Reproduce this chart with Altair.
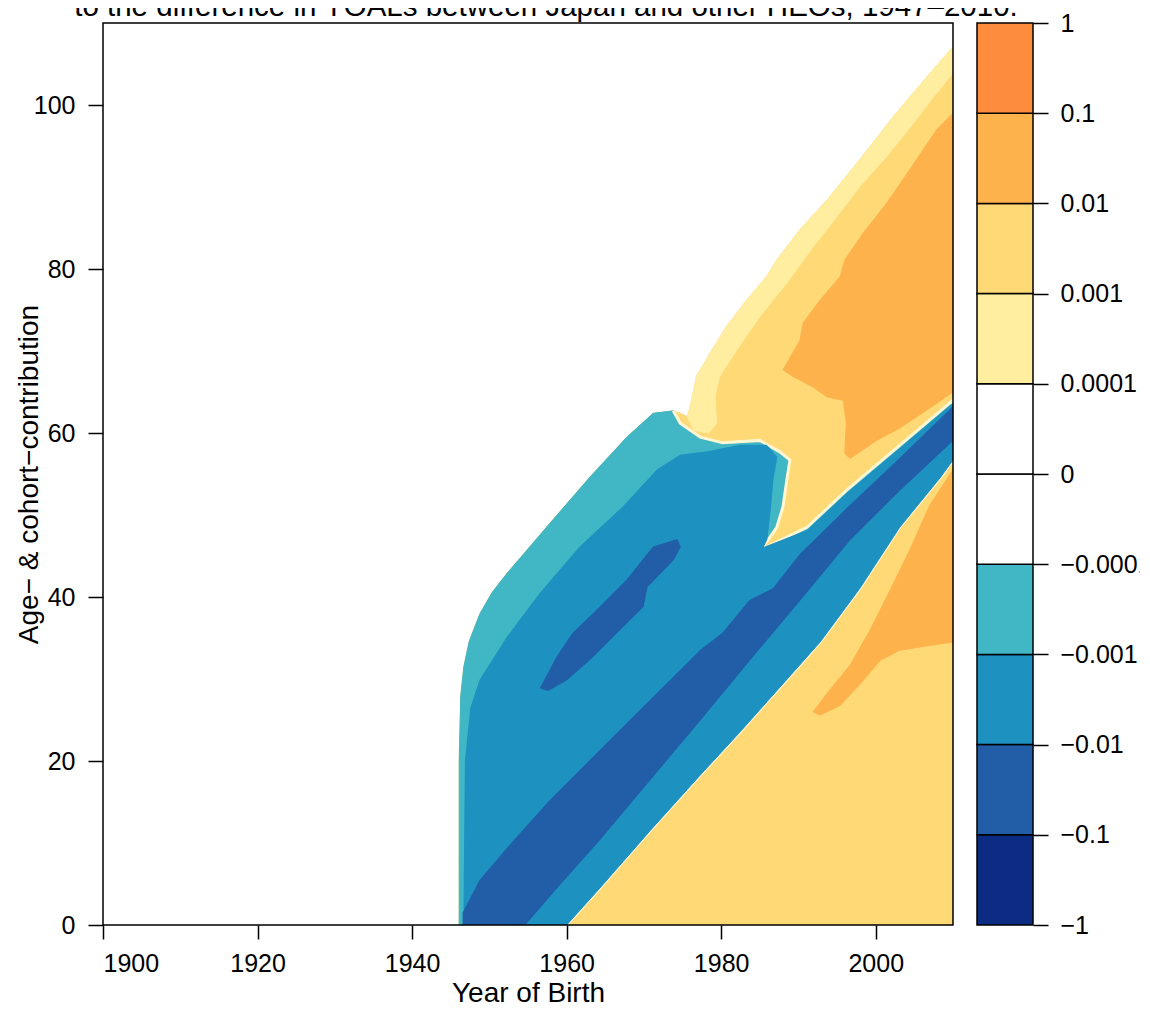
import json
import altair as alt
import pandas as pd

FONT = "Liberation Sans, Arial, Helvetica, sans-serif"

# ---- axes ----
X_DOMAIN = [1900, 2010]
Y_DOMAIN = [0, 110]
X_TICKS = [1900, 1920, 1940, 1960, 1980, 2000]
Y_TICKS = [0, 20, 40, 60, 80, 100]

# ---- contour regions (Year of Birth, Age) ----
YELLOW_DOMAIN = [
    (1946.1, 0), (1946.1, 20), (1946.3, 28.0), (1946.7, 31.5), (1947.4, 34.6),
    (1948.8, 38.0), (1950.4, 40.6), (1952.3, 42.9), (1957.85, 49.0), (1963.0, 54.6),
    (1967.8, 59.5), (1971.2, 62.4), (1973.8, 62.7), (1975.0, 62.3), (1975.6, 62.0),
    (1976.0, 63.2), (1976.8, 66.9), (1978.6, 69.8), (1980.7, 73.0), (1983.3, 76.2),
    (1985.9, 79.1), (1987.2, 81.1), (1990.2, 84.8), (1993.7, 88.4), (1997.9, 93.3),
    (2002.3, 98.6), (2006.6, 103.4), (2010, 107.1), (2010, 0)]

LIGHT_YELLOW_UPPER = [
    (1975.6, 62.0), (1976.0, 63.2), (1976.8, 66.9), (1978.6, 69.8), (1980.7, 73.0),
    (1983.3, 76.2), (1985.9, 79.1), (1987.2, 81.1), (1990.2, 84.8), (1993.7, 88.4),
    (1997.9, 93.3), (2002.3, 98.6), (2006.6, 103.4), (2010, 107.1), (2010, 103.9),
    (2007.5, 101.0), (2004.9, 97.8), (2001.4, 93.7), (1997.9, 90.0), (1995.0, 86.4),
    (1991.9, 82.7), (1988.5, 78.3), (1985.0, 74.2), (1982.0, 70.1), (1979.8, 66.9),
    (1979.2, 64.4), (1979.4, 61.2), (1978.4, 60.0), (1976.5, 60.3)]

ORANGE_UPPER = [
    (2010, 99.0), (2007.9, 97.0), (2004.4, 92.1), (2001.4, 88.0), (1998.4, 84.4),
    (1996.0, 81.1), (1995.4, 79.1), (1992.8, 76.2), (1990.6, 73.4), (1990.2, 71.3),
    (1988.5, 68.5), (1988.0, 67.7), (1989.3, 66.9), (1991.9, 65.6), (1993.7, 64.4),
    (1995.8, 64.0), (1996.2, 61.2), (1996.0, 57.5), (1996.7, 56.9), (2000.1, 59.1),
    (2003.1, 60.6), (2006.6, 62.8), (2010, 65.0)]

ORANGE_LOWER = [
    (1991.9, 26.0), (1994.1, 28.7), (1996.7, 31.7), (1999.3, 36.0), (2001.9, 40.9),
    (2004.4, 45.7), (2007.0, 51.2), (2010, 55.5), (2010, 34.5), (2007.0, 34.1),
    (2003.1, 33.5), (2000.6, 32.3), (1997.9, 29.3), (1995.4, 26.8), (1992.8, 25.6)]

TEAL = [
    (1946.1, 0), (1946.1, 20), (1946.3, 28.0), (1946.7, 31.5), (1947.4, 34.6),
    (1948.8, 38.0), (1950.4, 40.6), (1952.3, 42.9), (1957.85, 49.0), (1963.0, 54.6),
    (1967.8, 59.5), (1971.2, 62.4), (1973.8, 62.7), (1974.7, 61.2), (1977.3, 59.5),
    (1980.2, 58.8), (1985.0, 59.1), (1987.6, 57.7), (1988.9, 56.7), (1988.5, 54.3),
    (1988.0, 51.0), (1987.2, 48.5), (1986.1, 47.0), (1985.0, 45.7), (1991.1, 48.5),
    (1996.2, 53.0), (2003.1, 58.5), (2010, 64.0), (2010, 56.7), (2008.3, 54.5),
    (2003.1, 48.5), (1997.9, 41.0), (1992.8, 34.5), (1987.6, 29.0), (1982.4, 23.5),
    (1977.3, 18.3), (1970.8, 11.5), (1964.3, 4.5), (1960.0, 0)]

MEDIUM_BLUE = [
    (1946.7, 0), (1946.9, 20), (1947.6, 26.5), (1948.8, 29.9), (1952.3, 35.1),
    (1956.6, 40.5), (1961.7, 46.1), (1967.3, 51.0), (1971.7, 55.5), (1974.7, 57.3),
    (1978.2, 57.7), (1982.4, 58.5), (1985.9, 58.5), (1987.2, 57.1), (1986.7, 54.3),
    (1986.3, 50.2), (1985.9, 47.0), (1985.4, 46.0), (1991.1, 48.1), (1996.2, 52.6),
    (2003.1, 58.1), (2010, 63.6), (2010, 56.7), (2008.3, 54.5), (2003.1, 48.5),
    (1997.9, 41.0), (1992.8, 34.5), (1987.6, 29.0), (1982.4, 23.5), (1977.3, 18.3),
    (1970.8, 11.5), (1964.3, 4.5), (1960.0, 0)]

DARK_BAND = [
    (1946.6, 0), (1946.6, 1.5), (1948.8, 5.5), (1952.7, 9.8), (1957.85, 15.2),
    (1964.3, 21.3), (1970.8, 27.4), (1973.8, 30.2), (1977.3, 33.5), (1980.2, 35.6),
    (1983.7, 39.6), (1986.7, 41.0), (1990.2, 45.2), (1996.7, 51.2), (2003.1, 56.9),
    (2010, 63.2), (2010, 59.1), (2003.1, 53.0), (1996.7, 47.0), (1990.2, 39.6),
    (1983.7, 32.3), (1977.3, 25.0), (1970.8, 17.7), (1964.3, 10.4), (1959.1, 4.9),
    (1954.6, 0)]

DARK_ISLAND = [
    (1956.6, 28.9), (1958.75, 32.7), (1960.8, 35.6), (1963.9, 38.4), (1967.8, 42.1),
    (1971.2, 46.1), (1974.3, 47.0), (1974.7, 46.1), (1973.8, 44.5), (1970.4, 41.2),
    (1969.9, 38.8), (1966.9, 36.0), (1963.4, 32.7), (1960.05, 29.9), (1957.6, 28.6)]

# pale seam where the negative (blue) zone meets the positive (yellow) zone
SEAM = TEAL[TEAL.index((1973.8, 62.7)):]

# painting order: name, points, fill colour (None = open line), edge colour, edge width
REGIONS = [
    ("yellow_domain", YELLOW_DOMAIN, "#FED976", "#FED976", 1),
    ("lightyellow_upper", LIGHT_YELLOW_UPPER, "#FFEDA0", "#FFEDA0", 1),
    ("orange_upper", ORANGE_UPPER, "#FEB24C", "#FEB24C", 1),
    ("orange_lower", ORANGE_LOWER, "#FEB24C", "#FEB24C", 1),
    ("teal", TEAL, "#41B6C4", "#41B6C4", 1),
    ("seam", SEAM, None, "#FFF6D2", 3),
    ("medium_blue", MEDIUM_BLUE, "#1D91C0", "#1D91C0", 1),
    ("dark_band", DARK_BAND, "#225EA8", "#225EA8", 1),
    ("dark_island", DARK_ISLAND, "#225EA8", "#225EA8", 1),
]

# ---- colour key ----
LEGEND_LABELS = ["\u22121", "\u22120.1", "\u22120.01", "\u22120.001", "\u22120.0001",
                 "0", "0.0001", "0.001", "0.01", "0.1", "1"]
LEGEND_COLORS = ["#0C2C84", "#225EA8", "#1D91C0", "#41B6C4", "#FFFFFF",
                 "#FFFFFF", "#FFEDA0", "#FED976", "#FEB24C", "#FD8D3C"]

TITLE = "to the difference in YOALs between Japan and other HEOs, 1947\u20132010."
X_TITLE = "Year of Birth"
Y_TITLE = "Age\u2212 & cohort\u2212contribution"

W, H = 850, 902

rows = []
for name, pts, _, _, _ in REGIONS:
    for i, (x, y) in enumerate(pts):
        rows.append({"region": name, "i": i, "x": x, "y": y})
poly_df = pd.DataFrame(rows)

x_enc = alt.X("x:Q", scale=alt.Scale(domain=X_DOMAIN, nice=False, zero=False),
              axis=alt.Axis(values=X_TICKS, format="d", tickSize=14, labelPadding=12,
                            title=X_TITLE, titleX=W / 2, titleY=76,
                            titleBaseline="alphabetic"))
y_enc = alt.Y("y:Q", scale=alt.Scale(domain=Y_DOMAIN, nice=False, zero=False),
              axis=alt.Axis(values=Y_TICKS, tickSize=15, labelPadding=13,
                            title=Y_TITLE, titleX=-66, titleY=H / 2, titleAngle=270,
                            titleBaseline="alphabetic"))

base = alt.Chart(poly_df)
layers = []
for name, _, fill, edge, ew in REGIONS:
    filtered = base.transform_filter(alt.datum.region == name)
    if fill is None:
        layers.append(
            filtered.mark_line(strokeWidth=ew, clip=True)
            .encode(x=x_enc, y=y_enc, order=alt.Order("i:Q"), stroke=alt.value(edge))
        )
    else:
        layers.append(
            filtered.mark_line(interpolate="linear-closed", strokeWidth=ew, clip=True)
            .encode(x=x_enc, y=y_enc, order=alt.Order("i:Q"),
                    fill=alt.value(fill), stroke=alt.value(edge))
        )

frame = alt.Chart(pd.DataFrame({"a": [0]})).mark_rect(
    fillOpacity=0, stroke="black", strokeWidth=1.5
).encode(x=alt.value(0), x2=alt.value(W), y=alt.value(0), y2=alt.value(H))

title_text = alt.Chart(pd.DataFrame({"t": [TITLE]})).mark_text(
    font=FONT, fontSize=29.5, color="black", align="center", baseline="alphabetic"
).encode(x=alt.value(443), y=alt.value(-7), text="t:N")

main = alt.layer(*layers, frame, title_text)

legend_df = pd.DataFrame({"lo": list(range(10)), "hi": list(range(1, 11)),
                          "color": LEGEND_COLORS})
label_expr = json.dumps(LEGEND_LABELS) + "[datum.value]"
legend = alt.Chart(legend_df).mark_rect(stroke="black", strokeWidth=1.5).encode(
    x=alt.value(874), x2=alt.value(930),
    y=alt.Y("lo:Q", scale=alt.Scale(domain=[0, 10], nice=False, zero=False),
            axis=alt.Axis(orient="right", offset=80, values=list(range(11)),
                          labelExpr=label_expr, tickSize=15, labelPadding=12,
                          title=None, domain=False)),
    y2="hi:Q",
    fill=alt.Fill("color:N", scale=None),
)

chart = (
    alt.layer(main, legend)
    .resolve_scale(y="independent")
    .properties(
        width=W, height=H,
        autosize=alt.AutoSizeParams(type="none"),
        padding={"left": 95, "top": 15, "right": 187, "bottom": 79},
    )
    .configure_view(stroke=None)
    .configure_axis(labelFont=FONT, labelFontSize=25, labelColor="black",
                    titleFont=FONT, titleFontSize=28, titleFontWeight="normal",
                    titleColor="black", tickColor="black", tickWidth=1.5,
                    grid=False, domain=False)
)

chart.save("out.html", embed_options={"renderer": "svg", "actions": False})
